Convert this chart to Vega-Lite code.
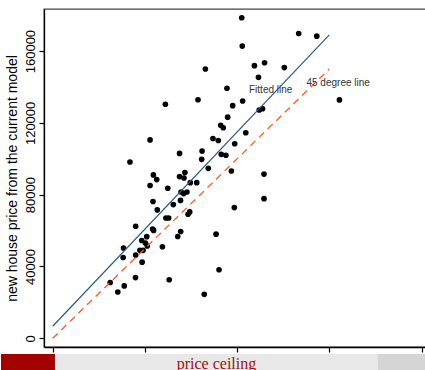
{
  "$schema": "https://vega.github.io/schema/vega-lite/v6.json",
  "padding": {"left": 0, "top": 8, "right": 0, "bottom": 0},
  "background": "white",
  "spacing": 0,
  "config": {"view": {"stroke": null}, "font": "Liberation Sans"},
  "datasets": {
    "pts": [
      {"x":102500,"y":178600},{"x":133400,"y":169800},{"x":143200,"y":168300},{"x":102800,"y":162800},
      {"x":82800,"y":150000},{"x":109400,"y":151900},{"x":114900,"y":153500},{"x":125600,"y":150800},
      {"x":111600,"y":145400},{"x":94500,"y":139300},{"x":78800,"y":132900},{"x":155500,"y":132800},
      {"x":61100,"y":130400},{"x":103000,"y":132200},{"x":97600,"y":129600},{"x":94900,"y":123200},
      {"x":112000,"y":127200},{"x":113800,"y":127900},{"x":91100,"y":118700},{"x":92500,"y":117300},
      {"x":86900,"y":111300},{"x":89800,"y":110200},{"x":52800,"y":110500},{"x":104700,"y":114500},
      {"x":98700,"y":108400},{"x":91400,"y":102500},{"x":93900,"y":102000},{"x":68800,"y":103000},
      {"x":81000,"y":104300},{"x":41900,"y":98200},{"x":80800,"y":99700},{"x":84400,"y":94700},
      {"x":96900,"y":93200},{"x":114600,"y":91500},{"x":54600,"y":91000},{"x":56400,"y":88400},
      {"x":52800,"y":85100},{"x":68800,"y":90100},{"x":71700,"y":92300},{"x":71200,"y":89300},
      {"x":62400,"y":83600},{"x":74600,"y":86700},{"x":78100,"y":86700},{"x":69600,"y":81500},
      {"x":71000,"y":80600},{"x":72800,"y":81500},{"x":54400,"y":76200},{"x":56700,"y":71500},
      {"x":69300,"y":76800},{"x":65400,"y":74500},{"x":114600,"y":77800},{"x":98500,"y":72800},
      {"x":73400,"y":69100},{"x":74300,"y":70400},{"x":61400,"y":67000},{"x":62900,"y":67000},
      {"x":45000,"y":62400},{"x":54200,"y":60900},{"x":69400,"y":59500},{"x":67800,"y":56700},
      {"x":88600,"y":58000},{"x":38400,"y":50300},{"x":38200,"y":45000},{"x":59500,"y":51000},
      {"x":45000,"y":46400},{"x":48500,"y":42400},{"x":90200,"y":38200},{"x":44900,"y":33800},
      {"x":63200,"y":32600},{"x":31200,"y":31100},{"x":38800,"y":29200},{"x":35300,"y":25800},
      {"x":82200,"y":24500},{"x":48300,"y":54500},{"x":50300,"y":53100},{"x":51000,"y":56600},
      {"x":51300,"y":51400},{"x":49000,"y":49000},{"x":47300,"y":49000},{"x":54700,"y":60100}
    ],
    "fit": [{"x":0,"y":6700},{"x":150000,"y":169000}],
    "d45": [{"x":0,"y":0},{"x":150000,"y":150000}],
    "lab": [
      {"x":118200,"y":138200,"label":"Fitted line"},
      {"x":154800,"y":142400,"label":"45 degree line"}
    ],
    "strip": [
      {"a":0,"b":0.127,"c":"red"},
      {"a":0.127,"b":0.887,"c":"light"},
      {"a":0.887,"b":1,"c":"dark"}
    ],
    "cap": [{"a":0.507,"label":"price ceiling"}]
  },
  "vconcat": [
    {
      "width": 405,
      "height": 338,
      "view": {"stroke": "#444", "strokeWidth": 1.3},
      "encoding": {
        "x": {"field":"x","type":"quantitative",
          "scale":{"domain":[-4718,214913],"nice":false,"zero":false},
          "axis":{"values":[0,50000,100000,150000,200000],"labels":false,"title":null,"grid":false,
            "tickSize":5,"tickColor":"black","tickWidth":1.2,"domainColor":"black","domainWidth":1.3}},
        "y": {"field":"y","type":"quantitative",
          "scale":{"domain":[-4850,183450],"nice":false,"zero":false},
          "axis":{"values":[0,40000,80000,120000,160000],"format":"d","grid":false,
            "labelAngle":-90,"labelAlign":"center","labelBaseline":"alphabetic","labelPadding":4.7,
            "labelFontSize":13,"labelColor":"black","labelFont":"Liberation Sans",
            "tickSize":5,"tickColor":"black","tickWidth":1.2,"domainColor":"black","domainWidth":1.3,
            "title":"new house price from the current model","titleFontSize":14,"titleFontWeight":"normal",
            "titleColor":"black","titleFont":"Liberation Sans","titlePadding":5}}
      },
      "layer": [
        {"data":{"name":"pts"},"mark":{"type":"circle","size":32,"color":"black","opacity":1}},
        {"data":{"name":"fit"},"mark":{"type":"line","color":"#2b5b84","strokeWidth":1.2}},
        {"data":{"name":"d45"},"mark":{"type":"line","color":"#ff5a1f","strokeWidth":1.3,"strokeDash":[7,5]}},
        {"data":{"name":"lab"},"mark":{"type":"text","fontSize":10,"color":"#333","align":"center","baseline":"middle","font":"Liberation Sans"},
          "encoding":{"text":{"field":"label","type":"nominal"}}}
      ]
    },
    {
      "width": 382,
      "height": 19,
      "layer": [
        {"data":{"name":"strip"},"mark":{"type":"rect","clip":false},
          "encoding":{
            "x":{"field":"a","type":"quantitative","scale":{"domain":[0.10118,1],"nice":false,"zero":false},"axis":null},
            "x2":{"field":"b"},
            "color":{"field":"c","type":"nominal","scale":{"domain":["red","light","dark"],"range":["#a30000","#e8e8e8","#d5d5d5"]},"legend":null}
          }},
        {"data":{"name":"cap"},"mark":{"type":"text","font":"Liberation Serif","fontSize":16,"color":"#a01010","align":"center","baseline":"alphabetic","dy":5},
          "encoding":{
            "x":{"field":"a","type":"quantitative"},
            "text":{"field":"label","type":"nominal"}
          }}
      ]
    }
  ]
}
